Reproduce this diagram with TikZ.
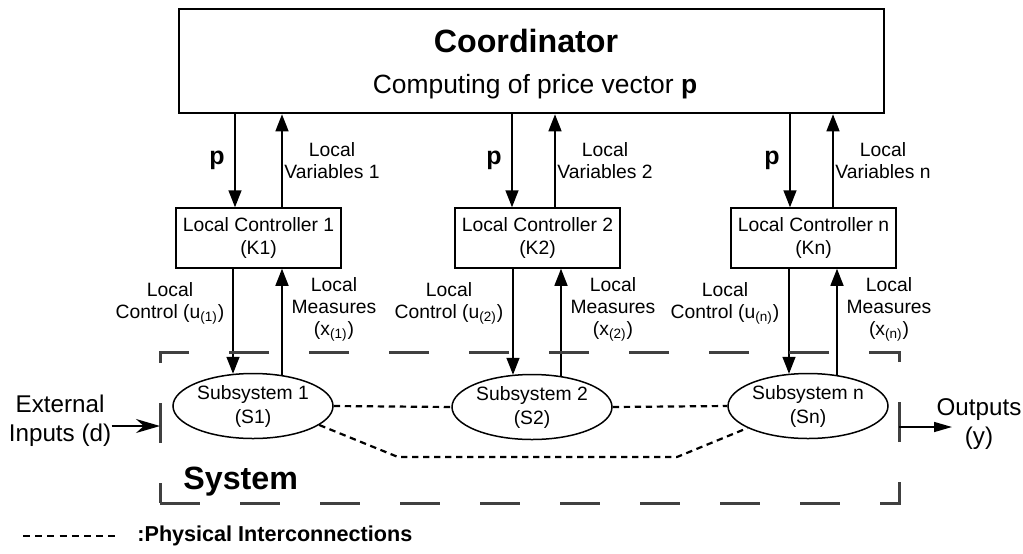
\documentclass[tikz,border=0pt]{standalone}
\usepackage{fontspec}
\setmainfont{Liberation Sans}
\usetikzlibrary{arrows.meta,shapes.geometric}

\begin{document}
\begin{tikzpicture}[x=0.5pt,y=-0.5pt,
        ctrl/.style={draw,line width=0.75pt,minimum width=82.5pt,minimum height=30pt,inner sep=0pt,align=center,font=\fontsize{9.65}{11.5}\selectfont},
        sub/.style={draw,ellipse,line width=0.75pt,minimum width=80pt,minimum height=32.5pt,inner sep=0pt,align=center,font=\fontsize{9.65}{12}\selectfont},
        lbl/.style={inner sep=0pt,align=center,font=\fontsize{9.65}{11}\selectfont},
        io/.style={inner sep=0pt,align=center,font=\fontsize{12.1}{14.5}\selectfont},
        big/.style={inner sep=0pt,font=\fontsize{16.1}{19}\selectfont\bfseries},
        sig/.style={line width=0.75pt,-{Triangle[length=8.5pt,width=6.5pt]}},
        phys/.style={line width=1.1pt,dash pattern=on 3.2pt off 2.3pt}]
    \useasboundingbox (0,0) rectangle (1023,553);
    \node[draw,line width=1.3pt,minimum width=352.5pt,minimum height=52pt,inner sep=0pt] (coord) at (531.5,61) {};
    \node[big] (title) at (526,41) {Coordinator};
    \node[inner sep=0pt,font=\fontsize{13.2}{16}\selectfont] (price) at (535,87) {Computing of price vector \textbf{p}};
    \foreach \i/\kx/\sx/\sy/\pa/\pb/\qa/\qb/\lc/\lm in {1/258.5/253/406/235/282/233/282/170/334, 2/537.5/532/407/512/555/513/561/449/613, n/813.5/808/406/790/833/789/837/725/889}{
        \node[ctrl] (K\i) at (\kx,238) {Local Controller \i\\(K\i)};
        \node[sub] (S\i) at (\sx,\sy) {Subsystem \i\\(S\i)};
        \draw[sig] (\pa,0 |- coord.south) -- (\pa,0 |- K\i.north);
        \draw[sig] (\pb,0 |- K\i.north) -- (\pb,0 |- coord.south);
        \draw[sig] (\qa,0 |- K\i.south) -- ([yshift=-0.5pt]S\i.north -| \qa,0);
        \draw[sig] ([yshift=-1pt]S\i.north -| \qb,0) -- (\qb,0 |- K\i.south);
        \node[inner sep=0pt,font=\fontsize{12.5}{15}\selectfont\bfseries] (p\i) at (\pa-18,160) {p};
        \node[lbl] (var\i) at (\pb+50,161) {Local\\Variables \i};
        \node[lbl] (ctl\i) at (\lc,303) {Local\\Control (u\textsubscript{(\i)})};
        \node[lbl] (mea\i) at (\lm,309) {Local\\Measures\\(x\textsubscript{(\i)})};
    }
    \draw[phys] (S1.east) -- (S2.west);
    \draw[phys] (S2.east) -- (Sn.west);
    \coordinate (bendA) at (398,457);
    \coordinate (bendB) at (677,457);
    \draw[phys] (S1.-16) -- (bendA) -- (bendB) -- (Sn.-160);
    \coordinate (sysSW) at (160,503);
    \coordinate (sysSE) at (899,503);
    \coordinate (sysNE) at (899,352);
    \coordinate (sysNW) at (160,352);
    \draw[line width=1.5pt,black!75,dash pattern=on 20pt off 20pt] (sysSW) -- (sysSE) -- (sysNE) -- (sysNW) -- cycle;
    \node[big,anchor=west] (sysname) at (183,482) {System};
    \node[io] (ext) at (60,421) {External\\Inputs (d)};
    \coordinate (in) at (160,426);
    \draw[line width=0.75pt,-{Stealth[length=12pt,width=7pt]}] (ext.east |- in) -- (in);
    \node[io] (outs) at (979,424) {Outputs\\(y)};
    \coordinate (out) at (899,427);
    \coordinate (outTip) at (952,427);
    \draw[line width=0.75pt,-{Triangle[length=9pt,width=5pt]}] (out) -- (outTip);
    \coordinate (legA) at (23,536);
    \coordinate (legB) at (117,536);
    \draw[line width=1.4pt,dash pattern=on 3.5pt off 2.6pt] (legA) -- (legB);
    \node[inner sep=0pt,anchor=west,font=\fontsize{10.8}{13}\selectfont\bfseries] (legend) at (137,536) {:Physical Interconnections};
\end{tikzpicture}
\end{document}
